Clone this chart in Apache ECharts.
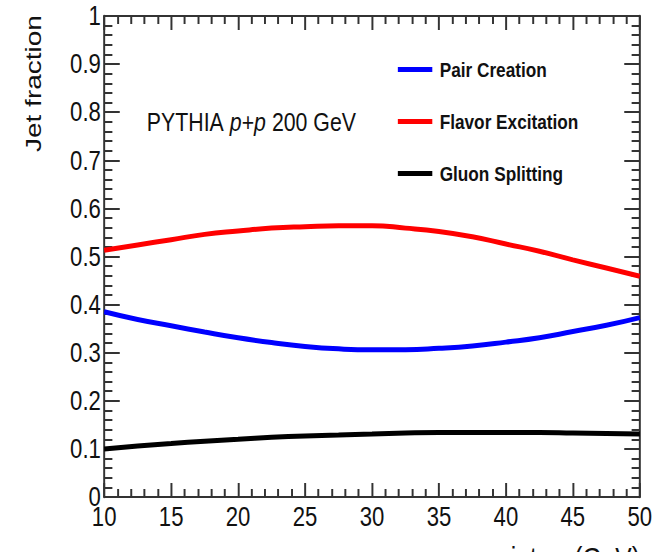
<!DOCTYPE html>
<html>
<head>
<meta charset="utf-8">
<script src="https://cdn.jsdelivr.net/npm/echarts@6/dist/echarts.min.js"></script>
<style>
  html, body { margin: 0; padding: 0; background: #fff; overflow: hidden; }
  /* The canvas is laid out wide and squeezed horizontally, giving the
     condensed look of the original ROOT plot. */
  #chart { width: 807px; height: 552px; transform: scaleX(0.8203); transform-origin: 0 0; }
</style>
</head>
<body>
<div id="chart"></div>
<script>
// Jet pT values (GeV) at which each fraction is sampled
const jetPt = [10, 12.5, 15, 17.5, 20, 22.5, 25, 27.5, 30, 32.5, 35, 37.5, 40, 42.5, 45, 47.5, 50];

// Fraction of jets from each heavy-flavour production process
const pairCreation     = [0.385, 0.369, 0.356, 0.343, 0.331, 0.321, 0.313, 0.308, 0.306, 0.306, 0.309, 0.314, 0.322, 0.331, 0.344, 0.357, 0.373];
const flavorExcitation = [0.513, 0.524, 0.535, 0.546, 0.553, 0.559, 0.562, 0.564, 0.564, 0.559, 0.552, 0.541, 0.526, 0.511, 0.493, 0.476, 0.459];
const gluonSplitting   = [0.100, 0.106, 0.111, 0.116, 0.120, 0.124, 0.127, 0.129, 0.131, 0.133, 0.134, 0.134, 0.134, 0.134, 0.133, 0.132, 0.131];

const seriesNames = ['Pair Creation', 'Flavor Excitation', 'Gluon Splitting'];
const seriesColors = ['#0000ff', '#ff0000', '#000000'];
const seriesValues = [pairCreation, flavorExcitation, gluonSplitting];

const FONT = '"Liberation Sans", Arial, Helvetica, sans-serif';
const AXIS_COLOR = '#333';
const TEXT_COLOR = '#111';

const chart = echarts.init(document.getElementById('chart'), null, { renderer: 'svg' });

// Frame axis: ticks drawn inward on all four sides, like a ROOT frame
function frameAxis(vertical, extra) {
  const lineW = vertical ? 2.4 : 2;   // vertical strokes compensate the squeeze
  const tickW = vertical ? 2 : 2.4;
  const majorLen = vertical ? 19 : 14;
  const minorLen = vertical ? 10 : 8;
  return Object.assign({
    type: 'value',
    axisLine: { show: true, onZero: false, lineStyle: { color: AXIS_COLOR, width: lineW } },
    axisTick: { show: true, inside: true, length: majorLen, lineStyle: { color: AXIS_COLOR, width: tickW } },
    minorTick: { show: true, splitNumber: 5, length: minorLen, lineStyle: { color: AXIS_COLOR, width: tickW } },
    splitLine: { show: false },
    minorSplitLine: { show: false }
  }, extra);
}

const option = {
  backgroundColor: '#fff',
  animation: false,
  grid: { left: 127, right: 27, top: 16, bottom: 55 },
  legend: {
    orient: 'vertical',
    left: 480,
    top: 54,
    itemWidth: 42,
    itemHeight: 5,
    itemGap: 31,
    icon: 'rect',
    textStyle: { fontFamily: FONT, fontWeight: 'bold', fontSize: 21, color: TEXT_COLOR, padding: [0, 0, 0, 4] },
    data: seriesNames
  },
  xAxis: [
    frameAxis(false, {
      position: 'bottom', min: 10, max: 50, interval: 5,
      axisLabel: { margin: 6, fontFamily: FONT, fontSize: 27, color: TEXT_COLOR }
    }),
    frameAxis(false, {
      position: 'top', min: 10, max: 50, interval: 5,
      axisLabel: { show: false }
    })
  ],
  yAxis: [
    frameAxis(true, {
      position: 'left', min: 0, max: 1, interval: 0.1,
      axisLabel: { margin: 4, fontFamily: FONT, fontSize: 27, color: TEXT_COLOR }
    }),
    frameAxis(true, {
      position: 'right', min: 0, max: 1, interval: 0.1,
      axisLabel: { show: false }
    })
  ],
  series: seriesNames.map((name, i) => ({
    name: name,
    type: 'line',
    xAxisIndex: 0,
    yAxisIndex: 0,
    smooth: true,
    showSymbol: false,
    symbol: 'none',
    color: seriesColors[i],
    lineStyle: { color: seriesColors[i], width: 5 },
    data: jetPt.map((x, j) => [x, seriesValues[i][j]])
  })),
  graphic: [
    {
      type: 'text',
      x: 26, y: 152,
      rotation: Math.PI / 2,
      style: {
        text: 'Jet fraction',
        font: '28px "Liberation Sans", Arial, sans-serif',
        fill: TEXT_COLOR,
        align: 'left',
        verticalAlign: 'top'
      }
    },
    {
      type: 'text',
      x: 179, y: 122,
      style: {
        text: '{n|PYTHIA }{i|p}{n|+}{i|p}{n| 200 GeV}',
        verticalAlign: 'middle',
        rich: {
          n: { fontFamily: FONT, fontSize: 26, fill: TEXT_COLOR },
          i: { fontFamily: FONT, fontSize: 26, fontStyle: 'italic', fill: TEXT_COLOR }
        }
      }
    },
    {
      type: 'text',
      x: 780, y: 543,
      style: {
        text: '{n|jet }{i|p}{s|T}{n| (GeV)}',
        align: 'right',
        verticalAlign: 'top',
        rich: {
          n: { fontFamily: FONT, fontSize: 30, fill: TEXT_COLOR },
          i: { fontFamily: FONT, fontSize: 30, fontStyle: 'italic', fill: TEXT_COLOR },
          s: { fontFamily: FONT, fontSize: 20, fill: TEXT_COLOR, verticalAlign: 'bottom' }
        }
      }
    }
  ]
};

chart.setOption(option);
</script>
</body>
</html>
